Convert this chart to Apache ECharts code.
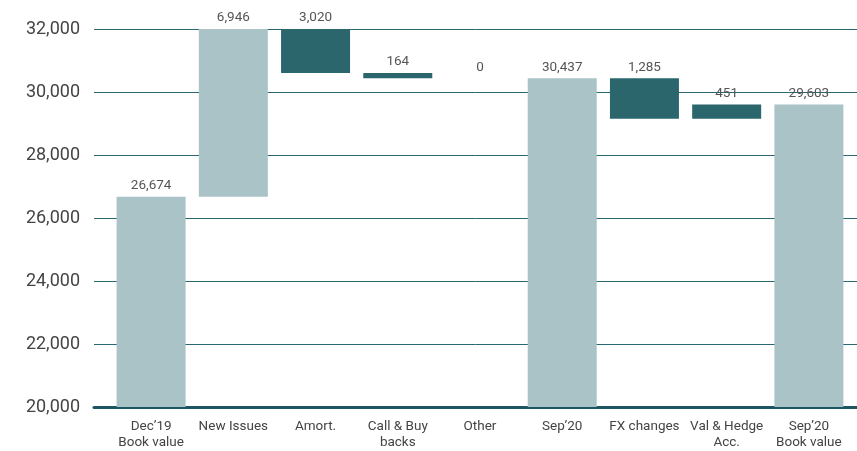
<!DOCTYPE html>
<html>
<head>
<meta charset="utf-8">
<script src="https://cdn.jsdelivr.net/npm/echarts@6/dist/echarts.min.js"></script>
<style>
  html, body { margin: 0; padding: 0; background: #fff; }
  #chart { width: 857px; height: 451px; }
</style>
</head>
<body>
<div id="chart"></div>
<script>
// 数据
const categories = ['Dec’19\nBook value', 'New Issues', 'Amort.', 'Call & Buy\nbacks', 'Other', 'Sep’20', 'FX changes', 'Val & Hedge\nAcc.', 'Sep’20\nBook value']
const amounts = [26674, 6946, 3020, 164, 0, 30437, 1285, 451, 29603]
// total = 从 0 开始, up = 增加, down = 减少
const kinds = ['total', 'up', 'down', 'down', 'down', 'total', 'down', 'up', 'total']
const yTicks = [20000, 22000, 24000, 26000, 28000, 30000, 32000]

const Y_MIN = yTicks[0]
const Y_MAX = yTicks[yTicks.length - 1]
const LIGHT = '#a9c3c7'
const DARK = '#2a666c'
// 浅色柱子（其余用深色）
const lightBars = [0, 1, 5, 8]

// 计算瀑布的底和高，超出坐标轴上限的部分截掉
let level = 0
const bases = []
const heights = []
kinds.forEach((k, i) => {
  let lo, hi
  if (k === 'total') {
    lo = 0; hi = amounts[i]; level = amounts[i]
  } else if (k === 'up') {
    lo = level; hi = level + amounts[i]; level = hi
  } else {
    hi = level; lo = level - amounts[i]; level = lo
  }
  hi = Math.min(hi, Y_MAX)
  lo = Math.min(lo, Y_MAX)
  bases.push(lo)
  heights.push({
    value: hi - lo,
    itemStyle: { color: lightBars.includes(i) ? LIGHT : DARK }
  })
})

const chart = echarts.init(document.getElementById('chart'))
const font = 'Roboto, "Noto Sans", sans-serif'

chart.setOption({
  animation: false,
  grid: [
    { left: 94, right: 0, top: 29, bottom: 44 },
    { left: 110, right: 7, top: 29, bottom: 44 }
  ],
  xAxis: [
    {
      gridIndex: 0, type: 'value', min: 0, max: 1,
      axisLine: { show: true, onZero: false, lineStyle: { color: '#1d5660', width: 3 } },
      axisTick: { show: false }, axisLabel: { show: false }, splitLine: { show: false }
    },
    {
      gridIndex: 1, type: 'category', data: categories,
      axisLine: { show: false }, axisTick: { show: false },
      axisLabel: { color: '#444', fontFamily: font, fontSize: 13.5, lineHeight: 16, margin: 12, interval: 0 }
    }
  ],
  yAxis: [
    {
      gridIndex: 0, type: 'value', min: Y_MIN, max: Y_MAX, interval: 2000,
      axisLine: { show: false }, axisTick: { show: false },
      axisLabel: {
        color: '#444', fontFamily: font, fontSize: 18, margin: 14,
        formatter: v => v.toLocaleString('en-US')
      },
      splitLine: { lineStyle: { color: '#2a6670', width: 1 } }
    },
    {
      gridIndex: 1, type: 'value', min: Y_MIN, max: Y_MAX, interval: 2000,
      axisLine: { show: false }, axisTick: { show: false },
      axisLabel: { show: false }, splitLine: { show: false }
    }
  ],
  series: [
    {
      type: 'bar', xAxisIndex: 1, yAxisIndex: 1, stack: 'wf',
      data: bases, barWidth: 69,
      itemStyle: { color: 'transparent' }, silent: true
    },
    {
      type: 'bar', xAxisIndex: 1, yAxisIndex: 1, stack: 'wf',
      data: heights, barWidth: 69,
      label: {
        show: true, position: 'top', distance: 4,
        color: '#555', fontFamily: font, fontSize: 13.5,
        formatter: p => amounts[p.dataIndex].toLocaleString('en-US')
      }
    }
  ]
})
</script>
</body>
</html>
